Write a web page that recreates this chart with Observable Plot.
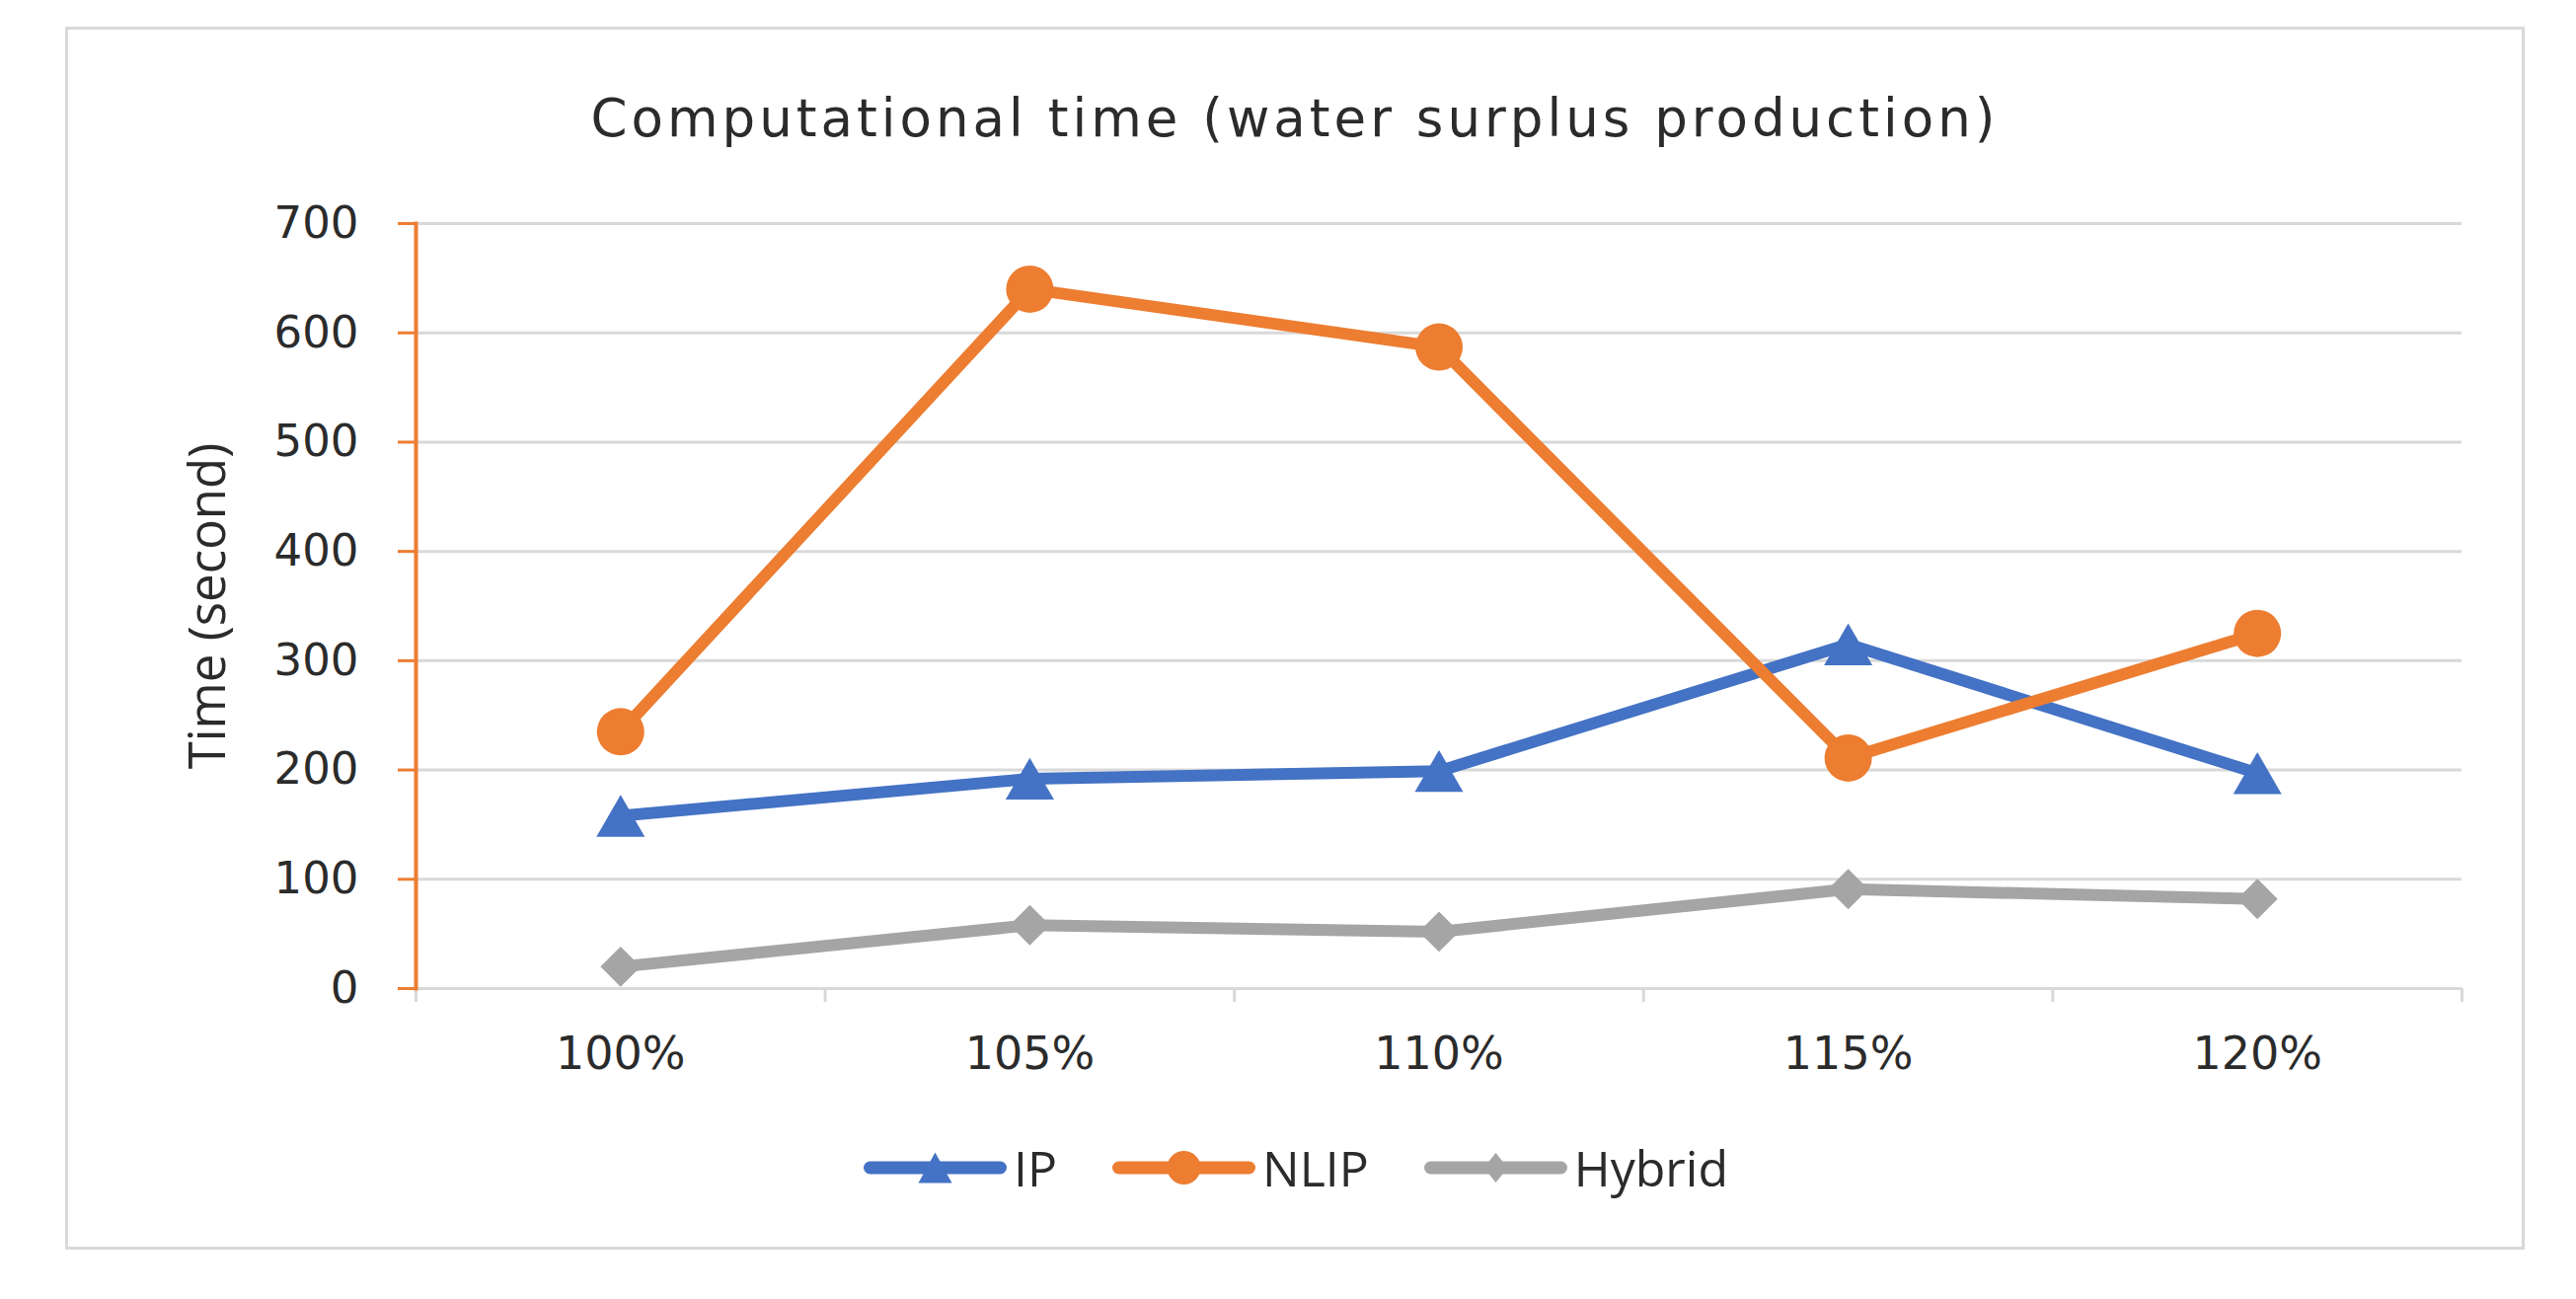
<!DOCTYPE html>
<html>
<head>
<meta charset="utf-8">
<script src="https://cdn.jsdelivr.net/npm/d3@7"></script>
<script src="https://cdn.jsdelivr.net/npm/@observablehq/plot@0.6"></script>
<style>
  html, body { margin: 0; padding: 0; background: #fff; width: 2610px; height: 1316px; overflow: hidden; }
  #box { position: absolute; left: 66px; top: 27px; width: 2492px; height: 1239px; box-sizing: border-box; border: 3px solid #d9d9d9; }
  #title { position: absolute; left: 67px; width: 2490px; top: 94px; text-align: center; font-family: "DejaVu Sans"; font-size: 53px; line-height: 52px; letter-spacing: 4px; color: #2b2b2b; white-space: nowrap; }
  #chart { position: absolute; left: 0; top: 170px; }
  #legend { position: absolute; left: 875px; top: 1158px; height: 50px; display: flex; align-items: center; gap: 56px; }
  .item { display: flex; align-items: center; }
  .item span { font-family: "Open Sans"; font-size: 50px; color: #2b2b2b; margin-left: 7px; line-height: 50px; }
</style>
</head>
<body>
<div id="box"></div>
<div id="title">Computational time (water surplus production)</div>
<div id="chart"></div>
<div id="legend"></div>
<script>
// ---- data ----
const categories = ["100%", "105%", "110%", "115%", "120%"];
const seriesNames = ["IP", "NLIP", "Hybrid"];
const ipValues = [158, 192, 199, 315, 197];
const nlipValues = [235, 640, 587, 211, 325];
const hybridValues = [20, 58, 52, 91, 82];
const yTicks = [0, 100, 200, 300, 400, 500, 600, 700];
const yLabel = "Time (second)";

// ---- styles ----
const colors = { IP: "#4472C4", NLIP: "#ED7D31", Hybrid: "#A5A5A5" };
const symbols = { IP: "triangle", NLIP: "circle", Hybrid: "diamond2" };
const radii = { IP: 18.2, NLIP: 24, Hybrid: 18.4 };
const dys = { IP: 7, NLIP: 0, Hybrid: 0 };

const valuesBySeries = { IP: ipValues, NLIP: nlipValues, Hybrid: hybridValues };
const rows = [];
for (const name of seriesNames) {
  valuesBySeries[name].forEach((v, i) => rows.push({ series: name, cat: categories[i], i: i + 0.5, value: v }));
}

const seriesMarks = [];
for (const name of seriesNames) {
  const d = rows.filter(r => r.series === name);
  seriesMarks.push(Plot.line(d, { x: "i", y: "value", stroke: colors[name], strokeWidth: 12, strokeLinejoin: "round", strokeLinecap: "round" }));
  seriesMarks.push(Plot.dot(d, { x: "i", y: "value", symbol: symbols[name], r: radii[name], fill: colors[name], stroke: "none", dy: dys[name] }));
}

const chart = Plot.plot({
  width: 2610,
  height: 940,
  marginLeft: 421,
  marginRight: 116,
  marginTop: 56,
  marginBottom: 109,
  x: { type: "linear", domain: [0, categories.length] },
  y: { domain: [0, 700] },
  style: { fontFamily: "DejaVu Sans", background: "transparent", overflow: "visible" },
  marks: [
    Plot.gridY(yTicks, { stroke: "#d9d9d9", strokeWidth: 3, strokeOpacity: 1 }),
    Plot.axisX(d3.range(categories.length + 1), { tickSize: 14, stroke: "#d9d9d9", strokeWidth: 3, tickFormat: () => "", label: null }),
    Plot.axisX(categories.map((c, i) => i + 0.5), { tickSize: 0, tickPadding: 49, tickFormat: d => categories[Math.floor(d)], fontSize: 46, fill: "#2b2b2b", label: null }),
    Plot.frame({ anchor: "left", stroke: "#ED7D31", strokeWidth: 4 }),
    Plot.axisY(yTicks, { tickSize: 18, tickPadding: 40, stroke: "#ED7D31", strokeWidth: 3, fontSize: 45, fill: "#2b2b2b", label: null }),
    Plot.text([yLabel], { frameAnchor: "left", textAnchor: "middle", lineAnchor: "middle", dx: -210, rotate: -90, fontFamily: "Open Sans", fontSize: 51, fill: "#2b2b2b" }),
    ...seriesMarks
  ]
});
document.getElementById("chart").appendChild(chart);

// ---- legend ----
const legend = d3.select("#legend");
const markerPaths = {
  IP: "M0,-15.5L17,15.5L-17,15.5Z",
  NLIP: d3.symbol(d3.symbolCircle, Math.PI * 17 * 17)(),
  Hybrid: "M0,-15L12,0L0,15L-12,0Z"
};
for (const name of seriesNames) {
  const item = legend.append("div").attr("class", "item");
  const svg = item.append("svg").attr("width", 145).attr("height", 40);
  svg.append("line").attr("x1", 6.5).attr("x2", 138.5).attr("y1", 20).attr("y2", 20)
    .attr("stroke", colors[name]).attr("stroke-width", 13).attr("stroke-linecap", "round");
  svg.append("path").attr("d", markerPaths[name]).attr("transform", "translate(72.5,20)").attr("fill", colors[name]);
  item.append("span").text(name);
}
</script>
</body>
</html>
